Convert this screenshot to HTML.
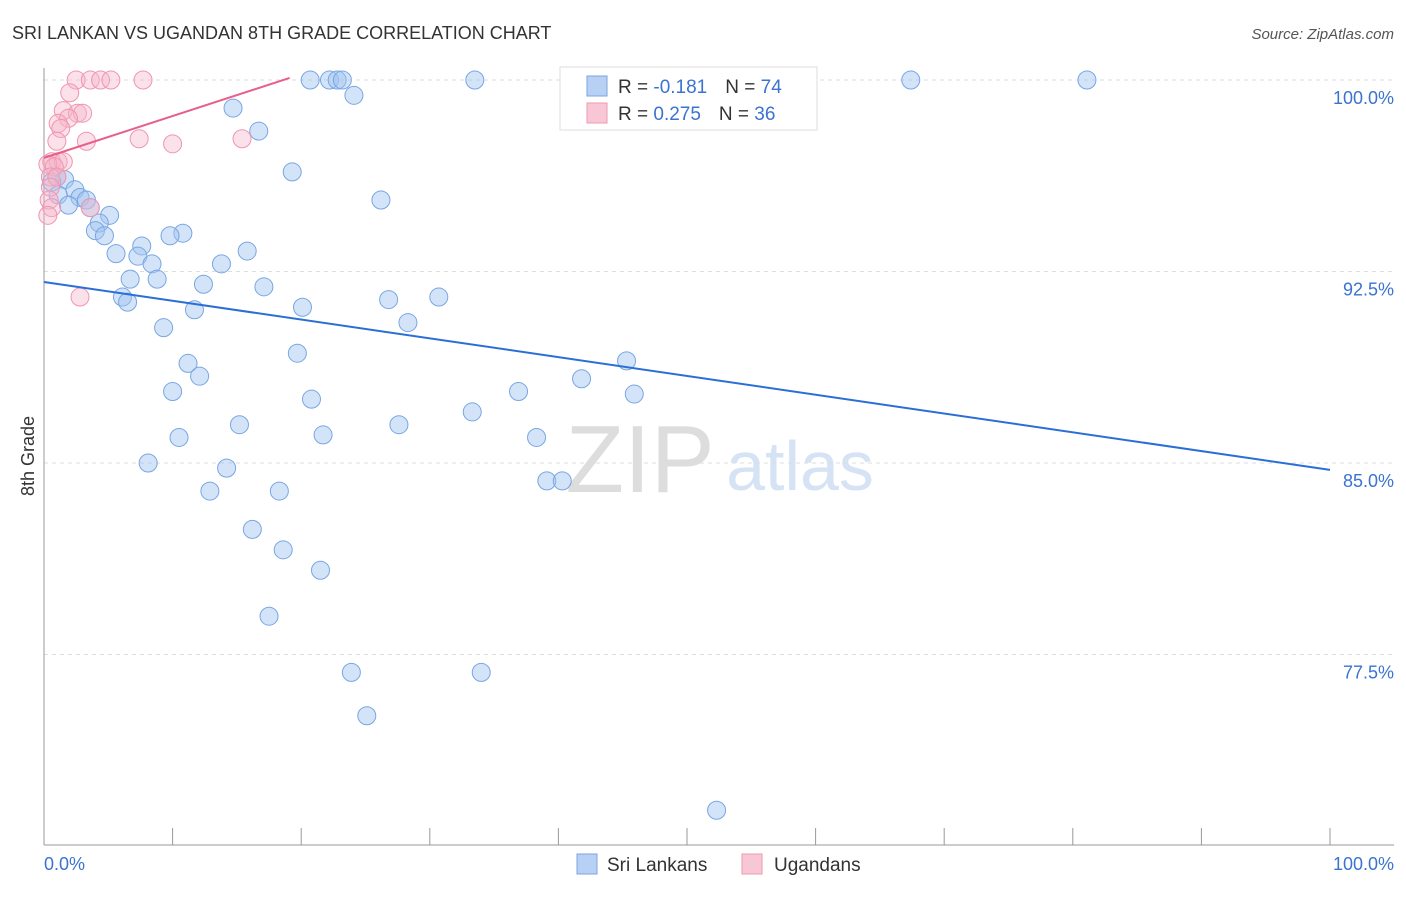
<!DOCTYPE html>
<html><head><meta charset="utf-8"><style>
body{margin:0;background:#fff;font-family:"Liberation Sans",sans-serif;}
svg text{font-family:"Liberation Sans",sans-serif;}
</style></head><body>
<svg id="chart" width="1406" height="892" viewBox="0 0 1406 892" xmlns="http://www.w3.org/2000/svg">
<text x="12" y="39" font-size="18" fill="#333">SRI LANKAN VS UGANDAN 8TH GRADE CORRELATION CHART</text>
<text x="1394" y="39" font-size="15" fill="#555" text-anchor="end" font-style="italic">Source: ZipAtlas.com</text>
<text x="640" y="492" font-size="96" fill="#ddd" font-family="Liberation Serif" text-anchor="middle">ZIP</text>
<text x="800" y="490" font-size="70" fill="#d5e3f5" text-anchor="middle">atlas</text>
<g id="grid"></g><g id="axes"></g><g id="marks"></g>
<text transform="translate(34,456) rotate(-90)" font-size="18" fill="#333" text-anchor="middle">8th Grade</text>
<text x="44" y="870" font-size="18" fill="#3a73d0">0.0%</text>
<text x="1394" y="870" font-size="18" fill="#3a73d0" text-anchor="end">100.0%</text>
<g>
<rect x="560" y="67" width="257" height="63" fill="#fff" stroke="#ddd"/>
<rect x="587" y="76" width="20" height="20" fill="#b7d0f3" stroke="#7aa6e2"/>
<rect x="587" y="103" width="20" height="20" fill="#f9c6d5" stroke="#ef9ab4"/>
<text x="618" y="93" font-size="19" fill="#333">R = <tspan fill="#3a73d0">-0.181</tspan><tspan dx="18">N = </tspan><tspan fill="#3a73d0">74</tspan></text>
<text x="618" y="120" font-size="19" fill="#333">R = <tspan fill="#3a73d0"> 0.275</tspan><tspan dx="18">N = </tspan><tspan fill="#3a73d0">36</tspan></text>
</g>
<g>
<rect x="577" y="854" width="20" height="20" fill="#b7d0f3" stroke="#7aa6e2"/>
<text x="607" y="871" font-size="19" fill="#333">Sri Lankans</text>
<rect x="742" y="854" width="20" height="20" fill="#f9c6d5" stroke="#ef9ab4"/>
<text x="774" y="871" font-size="19" fill="#333">Ugandans</text>
</g>
</svg>
<script>
const yTicks=[100,92.5,85,77.5];
const yTickLabels=["100.0%","92.5%","85.0%","77.5%"];
const blueX=[20.7,22.2,22.8,23.2,33.5,67.4,81.1,24.1,14.7,16.7,19.3,26.2,1.0,1.6,0.6,2.4,1.1,2.8,3.3,1.9,3.6,5.1,4.3,4.0,4.7,7.6,10.8,9.8,5.6,7.3,15.8,8.4,13.8,6.7,8.8,12.4,17.1,6.1,6.5,30.7,26.8,20.1,11.7,28.3,9.3,19.7,45.3,11.2,12.1,41.8,36.9,45.9,10.0,20.8,33.3,15.2,27.6,21.7,38.3,10.5,8.1,14.2,39.1,40.3,12.9,18.3,16.2,18.6,21.5,17.5,23.9,34.0,25.1,52.3];
const blueY=[100,100,100,100,100,100,100,99.4,98.9,98.0,96.4,95.3,96.2,96.1,96.0,95.7,95.5,95.4,95.3,95.1,95.0,94.7,94.4,94.1,93.9,93.5,94.0,93.9,93.2,93.1,93.3,92.8,92.8,92.2,92.2,92.0,91.9,91.5,91.3,91.5,91.4,91.1,91.0,90.5,90.3,89.3,89.0,88.9,88.4,88.3,87.8,87.7,87.8,87.5,87.0,86.5,86.5,86.1,86.0,86.0,85.0,84.8,84.3,84.3,83.9,83.9,82.4,81.6,80.8,79.0,76.8,76.8,75.1,71.4];
const pinkX=[2.5,3.6,4.4,5.2,7.7,2.0,1.5,2.6,3.0,1.9,1.1,1.3,3.3,1.0,7.4,10.0,15.4,0.6,1.1,1.5,0.3,0.8,0.5,1.0,0.5,0.4,0.6,0.3,3.6,2.8];
const pinkY=[100,100,100,100,100,99.5,98.8,98.7,98.7,98.5,98.3,98.1,97.6,97.6,97.7,97.5,97.7,96.8,96.8,96.8,96.7,96.6,96.2,96.2,95.8,95.3,95.0,94.7,95.0,91.5];
const blueFit=[92.09,84.73], pinkFit=[96.95,100.08];
const X0=44,X1=1330,Y100=80,PX=191.5/7.5;
const xs=v=>X0+(X1-X0)*v/100, ys=v=>Y100+(100-v)*PX;
const NS="http://www.w3.org/2000/svg";
function mk(t,a,p){const e=document.createElementNS(NS,t);for(const k in a)e.setAttribute(k,a[k]);p.appendChild(e);return e;}
const grid=document.getElementById('grid'),axes=document.getElementById('axes'),marks=document.getElementById('marks');
yTicks.forEach((v,i)=>{
 const l=mk('line',{x1:X0,x2:1394,y1:ys(v),y2:ys(v),stroke:'#ddd','stroke-dasharray':'4,4'},grid);
 
 
 const t=mk('text',{x:1394,y:ys(v)+24,'font-size':18,fill:'#3a73d0','text-anchor':'end'},grid);
 t.textContent=yTickLabels[i];
 
 
});
const ya=mk('line',{x1:X0,x2:X0,y1:68,y2:845,stroke:'#999'},axes);


const xa=mk('line',{x1:X0,x2:1394,y1:845,y2:845,stroke:'#999'},axes);


for(let i=0;i<=10;i++){const x=X0+(X1-X0)*i/10;const t=mk('line',{x1:x,x2:x,y1:828,y2:845,stroke:'#999'},axes);
 
 }
blueX.forEach((v,i)=>{const c=mk('circle',{cx:xs(v),cy:ys(blueY[i]),r:9,fill:'rgba(160,195,240,0.45)',stroke:'#78a6e3','stroke-width':1},marks);
 
 });
pinkX.forEach((v,i)=>{const c=mk('circle',{cx:xs(v),cy:ys(pinkY[i]),r:9,fill:'rgba(246,180,200,0.4)',stroke:'#f095b1','stroke-width':1},marks);
 
 });
const bl=mk('line',{x1:xs(0),y1:ys(blueFit[0]),x2:xs(100),y2:ys(blueFit[1]),stroke:'#2a6fd6','stroke-width':2},marks);


const pl=mk('line',{x1:xs(0),y1:ys(pinkFit[0]),x2:xs(19.1),y2:ys(pinkFit[1]),stroke:'#e8608a','stroke-width':2},marks);


</script>
</body></html>
